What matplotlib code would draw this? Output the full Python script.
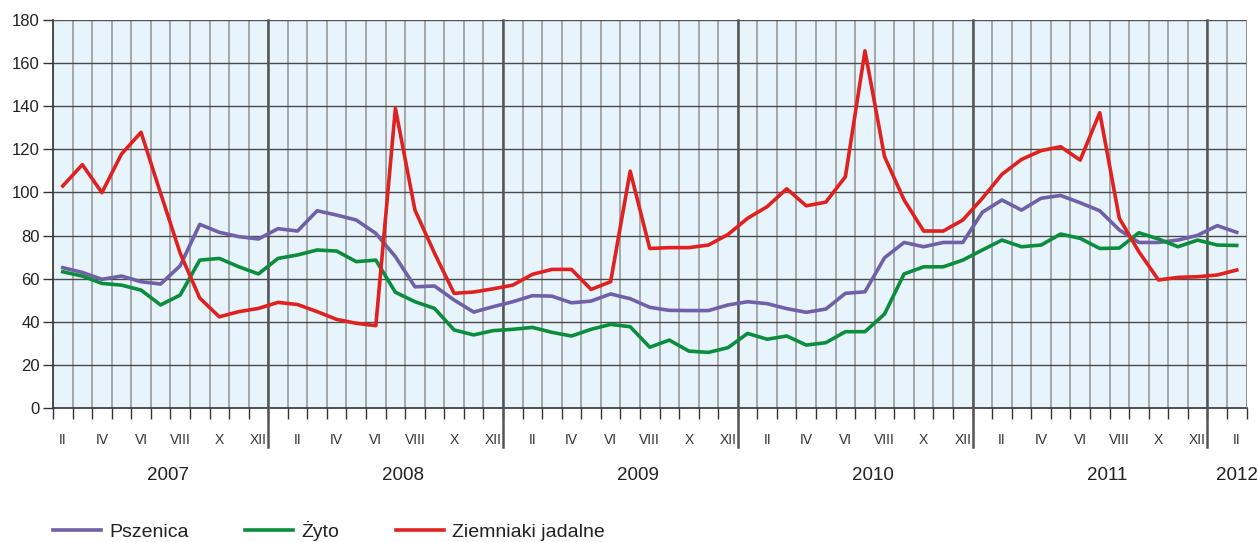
import matplotlib
matplotlib.use("Agg")
import matplotlib.pyplot as plt
import matplotlib.transforms as mtransforms
import numpy as np

plt.rcParams['font.family'] = ['Liberation Sans', 'DejaVu Sans']

# miesiace: luty 2007 (1) ... luty 2012 (61)
miesiace = np.arange(1, 62)

pszenica = [65.1, 62.9, 59.7, 61.2, 58.6, 57.5, 66.0, 85.2, 81.5, 79.5, 78.4, 83.2,
            82.1, 91.5, 89.5, 87.2, 81.0, 70.2, 56.2,
            56.6, 50.1, 44.5, 47.0, 49.3, 52.1, 51.9, 48.8, 49.6, 52.9, 50.7, 46.7,
            45.3, 45.2, 45.2, 47.8, 49.3, 48.4, 46.1, 44.4,
            45.9, 53.2, 53.9, 69.7, 76.8, 74.8, 76.8, 76.8, 90.8, 96.5, 91.8, 97.3,
            98.6, 95.2, 91.5, 82.6, 76.8, 76.8, 77.9, 80.1, 84.6, 81.5]
zyto = [63.2, 61.2, 57.8, 57.0, 54.7, 47.8, 52.4, 68.6, 69.4, 65.5, 62.2, 69.4,
        71.0, 73.3, 72.8, 67.9, 68.6, 53.7, 49.3,
        46.2, 36.2, 33.9, 35.9, 36.5, 37.4, 35.1, 33.4, 36.5, 38.8, 37.7, 28.2,
        31.5, 26.4, 25.8, 28.0, 34.6, 31.9, 33.4, 29.2,
        30.3, 35.4, 35.4, 43.6, 62.2, 65.5, 65.5, 68.6, 73.3, 77.9, 74.8, 75.6,
        80.7, 78.7, 74.0, 74.2, 81.3, 78.4, 74.8, 77.9, 75.6, 75.4]
ziemniaki = [103.0, 112.9, 99.9, 117.8, 127.9, 99.6, 71.8, 51.0, 42.3, 44.7, 46.2, 49.0,
             48.0, 44.7, 41.1, 39.3, 38.2, 139.0, 91.8,
             71.8, 53.2, 53.8, 55.3, 57.0, 62.0, 64.3, 64.3, 55.0, 58.6, 109.9, 74.0,
             74.4, 74.4, 75.6, 80.5, 88.0, 93.4, 101.7, 93.8,
             95.5, 107.3, 165.7, 116.6, 96.5, 82.1, 82.1, 87.2, 97.3, 108.4, 115.3, 119.4,
             121.2, 115.0, 137.0, 88.0, 72.5, 59.4, 60.6, 60.9, 61.7, 64.0]

rzymskie = ['I', 'II', 'III', 'IV', 'V', 'VI', 'VII', 'VIII', 'IX', 'X', 'XI', 'XII']
lata = ['2007', '2008', '2009', '2010', '2011', '2012']

fig = plt.figure(figsize=(12.58, 5.42), dpi=100)
ax = fig.add_axes([53 / 1258, 1 - 408 / 542, 1193.5 / 1258, 388 / 542])
ax.set_facecolor('#e8f4fb')

# siatka pionowa co miesiac
for xb in np.arange(0.5, 62, 1):
    ax.axvline(xb, color='#a6a6a6', lw=1.4, zorder=1)
# siatka pozioma
for yv in range(20, 181, 20):
    ax.axhline(yv, color='#4a4a4a', lw=1.0, zorder=2)

ax.plot(miesiace, pszenica, color='#6f60a8', lw=2.6, label='Pszenica', zorder=4,
        solid_joinstyle='round')
ax.plot(miesiace, zyto, color='#0b8d3e', lw=2.6, label='Żyto', zorder=4,
        solid_joinstyle='round')
ax.plot(miesiace, ziemniaki, color='#e0211f', lw=2.6, label='Ziemniaki jadalne', zorder=5,
        solid_joinstyle='round')

# granice lat
for xb in np.arange(11.5, 61, 12):
    ax.axvline(xb, ymin=-0.1, ymax=1, color='#555555', lw=1.8, zorder=3, clip_on=False)

ax.set_xlim(0.5, 61.5)
ax.set_ylim(0, 180)
ax.set_yticks(range(0, 181, 20))
ax.tick_params(axis='y', length=7.5, width=1, color='#333333', labelsize=12,
               labelcolor='#222222', pad=2)

etyk_x = miesiace[::2]
ax.set_xticks(etyk_x)
ax.set_xticklabels([rzymskie[m % 12] for m in etyk_x])
ax.set_xticks(np.arange(0.5, 62, 1), minor=True)
ax.tick_params(axis='x', which='major', length=0, pad=18, labelsize=10,
               labelcolor='#333333')
ax.tick_params(axis='x', which='minor', length=8, width=1, color='#333333')

for s in ['top', 'right']:
    ax.spines[s].set_visible(False)
ax.spines['left'].set_color('#333333')
ax.spines['bottom'].set_color('#333333')
ax.spines['left'].set_linewidth(1.2)
ax.spines['bottom'].set_linewidth(1.2)
ax.axhline(180, color='#555555', lw=1.2, zorder=3)
ax.axvline(61.5, color='#8a8a8a', lw=1.2, zorder=3)

trans = mtransforms.blended_transform_factory(ax.transData, ax.transAxes)
poz_lat = [6.4, 18.4, 30.4, 42.4, 54.4, 61]
for xl, rok in zip(poz_lat, lata):
    ax.text(xl, -0.175, rok, transform=trans, ha='center', va='center',
            fontsize=13.5, color='#222222')

fig.legend(loc='center left', bbox_to_anchor=(53 / 1258, 1 - 531 / 542), ncol=3,
           frameon=False, fontsize=14, handlelength=2.45, handletextpad=0.45,
           columnspacing=2.9, borderpad=0, borderaxespad=0, labelcolor='#222222')

fig.savefig('out.png', dpi=100)
